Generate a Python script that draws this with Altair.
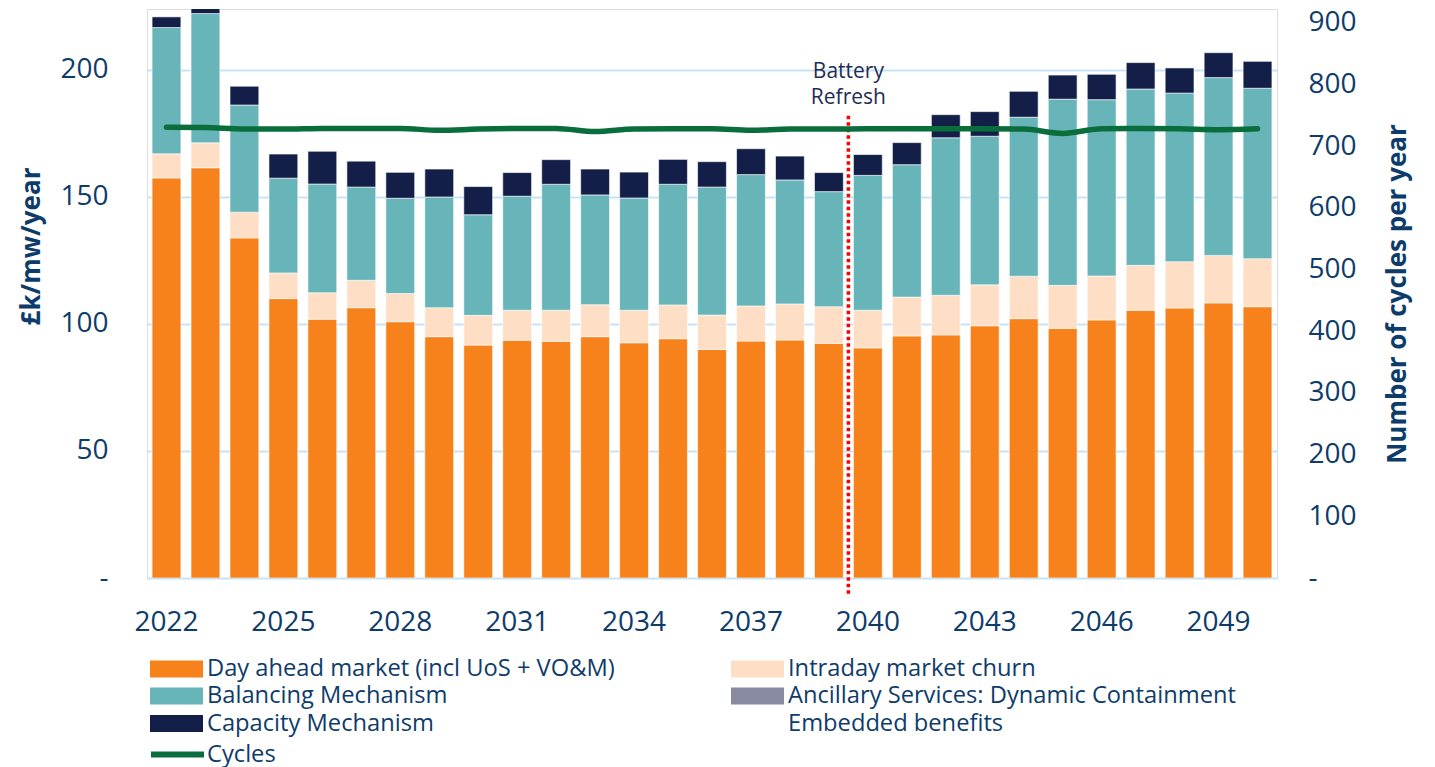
import altair as alt
import pandas as pd

years = list(range(2022, 2051))
day_ahead = [157.5, 161.5, 133.9, 110.0, 101.9, 106.4, 100.9, 95.0, 91.7, 93.6,
             93.2, 95.0, 92.6, 94.2, 90.0, 93.3, 93.7, 92.4, 90.6, 95.3,
             95.7, 99.3, 102.1, 98.3, 101.6, 105.4, 106.3, 108.3, 106.8]
intraday = [9.5, 9.8, 10.1, 10.1, 10.4, 10.8, 11.1, 11.4, 11.7, 11.8,
            12.2, 12.6, 12.8, 13.3, 13.5, 13.8, 14.2, 14.4, 14.8, 15.3,
            15.6, 16.1, 16.7, 16.9, 17.3, 17.7, 18.2, 18.7, 18.9]
balancing = [49.7, 50.9, 42.2, 37.3, 42.8, 36.7, 37.5, 43.6, 39.6, 44.9,
             49.6, 43.2, 44.2, 47.5, 50.4, 51.7, 48.8, 45.3, 53.1, 52.1,
             62.0, 58.5, 62.6, 73.3, 69.4, 69.4, 66.4, 70.0, 67.1]
capacity = [4.2, 4.5, 7.4, 9.5, 12.9, 10.2, 10.2, 11.0, 11.1, 9.3,
            9.7, 10.2, 10.2, 9.8, 10.0, 10.2, 9.4, 7.5, 8.2, 8.7,
            9.1, 9.7, 10.2, 9.5, 10.0, 10.4, 9.9, 9.8, 10.6]
cycles = [731, 730.5, 728, 728, 729, 729, 729, 726, 728, 729,
          729, 724, 728, 728.5, 728.5, 726, 728, 728, 728.5, 728.5,
          728.5, 728.5, 728, 721, 728.5, 729, 728.5, 727, 728.5]

# stacking order (bottom to top)
stack_names = ["Day ahead market (incl UoS + VO&M)", "Intraday market churn",
               "Balancing Mechanism", "Ancillary Services: Dynamic Containment",
               "Capacity Mechanism", "Embedded benefits"]
# legend order (column by column)
legend_names = ["Day ahead market (incl UoS + VO&M)", "Balancing Mechanism",
                "Capacity Mechanism", "Intraday market churn",
                "Ancillary Services: Dynamic Containment", "Embedded benefits"]
legend_colors = ["#f7811a", "#67b4b9", "#131f48", "#fedec4", "#878aa1", "#ffffff"]
tick_years = [2022, 2025, 2028, 2031, 2034, 2037, 2040, 2043, 2046, 2049]
left_ticks = [0, 50, 100, 150, 200]
right_ticks = [0, 100, 200, 300, 400, 500, 600, 700, 800, 900]

refresh_year = [2039]
refresh_label = ["Battery", "Refresh"]
refresh_top = [182]
refresh_bottom = [-6.3]
refresh_text_y = [199.2]

TXT = "#0e3c6a"
FONT = "Open Sans"

rows = []
for i, y in enumerate(years):
    for name, vals in [(stack_names[0], day_ahead), (stack_names[1], intraday),
                       (stack_names[2], balancing), (stack_names[4], capacity)]:
        rows.append({"year": y, "series": name, "value": vals[i],
                     "idx": stack_names.index(name)})
bars_df = pd.DataFrame(rows)
line_df = pd.DataFrame({"year": years, "cycles": cycles, "label": ["Cycles"] * len(years)})
rule_df = pd.DataFrame({"year": refresh_year, "top": refresh_top, "bottom": refresh_bottom,
                        "ty": refresh_text_y, "txt": [refresh_label]})

W = 1130
PI = 0.26
step = W / len(years)
gap_half = PI * step / 2

x_scale = alt.Scale(paddingInner=PI, paddingOuter=PI / 2)
y_left = alt.Scale(domain=[0, 224], nice=False, zero=True)
y_right = alt.Scale(domain=[0, 922.7], nice=False, zero=True)

x_axis = alt.Axis(title=None, values=tick_years, labelAngle=0, labelFontSize=28,
                  labelColor=TXT, labelFont=FONT, ticks=False, domain=False,
                  labelPadding=30, grid=False)

bars = alt.Chart(bars_df).mark_bar(stroke="#ffffff", strokeWidth=0.6, clip=True).encode(
    x=alt.X("year:O", scale=x_scale, axis=x_axis),
    y=alt.Y("value:Q", stack="zero", scale=y_left,
            axis=alt.Axis(title="£k/mw/year", values=left_ticks, grid=True,
                          gridColor="#c8e3f7", gridWidth=2, ticks=False, domain=False,
                          labelFontSize=28, labelColor=TXT, labelFont=FONT, labelPadding=39,
                          labelExpr="datum.value == 0 ? '-' : datum.label",
                          titleFontSize=26, titleFontWeight="bold", titleColor=TXT,
                          titleFont=FONT, titlePadding=15, titleY=237)),
    color=alt.Color("series:N", scale=alt.Scale(domain=legend_names, range=legend_colors),
                    legend=alt.Legend(title=None, orient="none", legendX=16, legendY=646,
                                      columns=2, symbolType="M-2,-0.64L2,-0.64L2,0.64L-2,0.64Z",
                                      symbolSize=702, symbolStrokeWidth=0, symbolOpacity=1,
                                      labelFontSize=23.7, labelColor=TXT, labelFont=FONT,
                                      columnPadding=116, rowPadding=1.5, labelOffset=17,
                                      labelLimit=600)),
    order=alt.Order("idx:Q", sort="ascending"),
)

rule = alt.Chart(rule_df).mark_rule(color="#ff0000", strokeWidth=3.5, strokeDash=[3.5, 3],
                                    xOffset=gap_half).encode(
    x=alt.X("year:O", bandPosition=1),
    y=alt.Y("top:Q"),
    y2="bottom:Q",
)

text = alt.Chart(rule_df).mark_text(fontSize=21, font=FONT, color="#1f2d56", align="center",
                                     baseline="middle", lineHeight=26, dx=gap_half).encode(
    x=alt.X("year:O", bandPosition=1),
    y=alt.Y("ty:Q"),
    text="txt",
)

left = alt.layer(bars, rule, text)

line = alt.Chart(line_df).mark_line(strokeWidth=5.5, strokeCap="round", strokeJoin="round",
                                    interpolate="monotone").encode(
    x=alt.X("year:O"),
    y=alt.Y("cycles:Q", scale=y_right,
            axis=alt.Axis(title="Number of cycles per year", orient="right", values=right_ticks,
                          grid=False, ticks=False, domain=False, labelFontSize=28,
                          labelColor=TXT, labelFont=FONT, labelPadding=31,
                          labelExpr="datum.value == 0 ? '-' : datum.label",
                          titleFontSize=26, titleFontWeight="bold", titleColor=TXT,
                          titleFont=FONT, titlePadding=54, titleAngle=270)),
    stroke=alt.Stroke("label:N", scale=alt.Scale(domain=["Cycles"], range=["#0a6e3c"]),
                      legend=alt.Legend(title=None, orient="none", legendX=1, legendY=716,
                                        symbolType="stroke", symbolSize=2809,
                                        symbolStrokeWidth=6, labelFontSize=23.7,
                                        labelColor=TXT, labelFont=FONT, labelOffset=0)),
)

chart = alt.layer(left, line).resolve_scale(y="independent", color="independent").properties(
    width=W, height=569,
    padding={"left": 10, "top": 0, "right": 5, "bottom": 0},
).configure_view(stroke=None).configure(font=FONT)

chart.save("out.html", embed_options={"renderer": "svg", "actions": False})
